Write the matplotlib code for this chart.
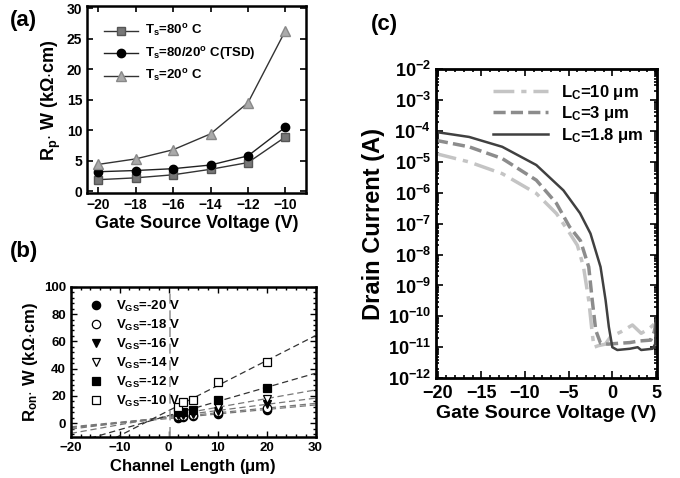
import numpy as np
import matplotlib
matplotlib.use('Agg')
import matplotlib.pyplot as plt
from matplotlib.ticker import MultipleLocator, LogLocator, NullFormatter

plt.rcParams['font.family'] = ['Liberation Sans', 'DejaVu Sans']
plt.rcParams['font.weight'] = 'bold'
plt.rcParams['mathtext.fontset'] = 'custom'
plt.rcParams['mathtext.rm'] = 'Liberation Sans:bold'
plt.rcParams['mathtext.it'] = 'Liberation Sans:bold'
plt.rcParams['mathtext.bf'] = 'Liberation Sans:bold'
plt.rcParams['mathtext.default'] = 'rm'

# (a) parasitic resistance vs gate voltage
vgs_a = [-20, -18, -16, -14, -12, -10]
rp_80 = [1.9, 2.2, 2.7, 3.6, 4.7, 8.9]
rp_tsd = [3.2, 3.4, 3.7, 4.3, 5.8, 10.5]
rp_20 = [4.4, 5.3, 6.8, 9.4, 14.5, 26.3]

# (b) Ron*W vs channel length (TLM)
lc_b = [2, 3, 5, 10, 20]
ron = {
    '-20': [4.0, 4.5, 5.0, 7.0, 10.0],
    '-18': [5.0, 5.0, 6.0, 8.0, 11.0],
    '-16': [6.0, 6.0, 7.0, 9.0, 14.0],
    '-14': [7.0, 7.0, 8.0, 12.0, 18.0],
    '-12': [8.0, 8.5, 10.0, 17.0, 26.0],
    '-10': [12.0, 15.5, 17.0, 30.0, 45.0],
}
ron_markers = {'-20': ('o', 'k'), '-18': ('o', 'w'), '-16': ('v', 'k'),
               '-14': ('v', 'w'), '-12': ('s', 'k'), '-10': ('s', 'w')}

# (c) transfer curves, log10 of drain current
v_18 = [-20.2, -16.4, -12.6, -8.7, -5.6, -3.7, -2.5, -1.35, -0.77, -0.4, 0.0, 0.57, 2.0, 2.9, 3.3, 4.6, 4.9, 5.0]
i_18 = [-4.03, -4.19, -4.51, -5.1, -5.92, -6.66, -7.32, -8.4, -9.48, -10.34, -11.0, -11.09, -11.05, -11.0, -11.09, -11.05, -10.9, -10.1]
v_3 = [-20.2, -16.4, -12.6, -8.7, -6.4, -4.9, -3.65, -2.7, -2.3, -1.9, -1.35, -0.5, 0.4, 2.0, 3.0, 4.4, 4.8, 5.0]
i_3 = [-4.3, -4.51, -4.89, -5.59, -6.34, -7.1, -7.55, -8.4, -9.48, -10.45, -10.87, -10.9, -10.88, -10.85, -10.8, -10.77, -10.5, -10.2]
v_10 = [-20.2, -16.4, -12.6, -8.7, -6.4, -4.9, -4.0, -3.3, -2.7, -2.3, -2.1, -1.6, -0.8, -0.2, 1.0, 2.3, 3.3, 4.2, 5.0]
i_10 = [-4.73, -5.0, -5.38, -6.02, -6.67, -7.3, -7.7, -8.4, -9.48, -10.55, -11.0, -10.95, -10.9, -10.66, -10.5, -10.28, -10.55, -10.4, -10.2]

fig = plt.figure(figsize=(6.8, 4.78), dpi=100)

# ---------------- (a)
ax1 = fig.add_axes([0.128, 0.596, 0.322, 0.391])
ax1.plot(vgs_a, rp_80, '-s', color='#333333', lw=1.0, ms=6, mfc='#777777', mec='#555555', label=r'T$_s$=80$^o$ C')
ax1.plot(vgs_a, rp_tsd, '-o', color='#222222', lw=1.0, ms=6, mfc='black', mec='black', label=r'T$_s$=80/20$^o$ C(TSD)')
ax1.plot(vgs_a, rp_20, '-^', color='#333333', lw=1.0, ms=7, mfc='#aaaaaa', mec='#888888', label=r'T$_s$=20$^o$ C')
ax1.set_xlim(-20.6, -8.9)
ax1.set_ylim(-0.3, 30.3)
ax1.xaxis.set_major_locator(MultipleLocator(2))
ax1.yaxis.set_major_locator(MultipleLocator(5))
ax1.tick_params(direction='in', top=True, right=True, labelsize=10, width=1.2, length=4)
ax1.set_xlabel('Gate Source Voltage (V)', fontsize=13, fontweight='bold', labelpad=2)
ax1.set_ylabel(r'R$_p$$\cdot$ W (k$\Omega$$\cdot$cm)', fontsize=13, fontweight='bold', labelpad=3)
ax1.legend(loc='upper left', frameon=False, fontsize=9.5, handlelength=2.6, handletextpad=0.5,
           borderaxespad=0.9, labelspacing=0.45)
for s in ax1.spines.values():
    s.set_linewidth(1.8)
fig.text(0.015, 0.98, '(a)', fontsize=16, fontweight='bold', va='top')

# ---------------- (b)
ax2 = fig.add_axes([0.104, 0.086, 0.360, 0.314])
xfit = np.array([-20, 30])
for key in ['-20', '-18', '-16', '-14', '-12', '-10']:
    mk, fc = ron_markers[key]
    k, b = np.polyfit(lc_b, ron[key], 1)
    lc = '#333333' if key in ('-10', '-12') else '#777777'
    ax2.plot(xfit, k * xfit + b, '--', color=lc, lw=0.9, dashes=(5, 3))
    ax2.plot(lc_b, ron[key], mk, ls='none', ms=6, mfc=fc, mec='black', mew=0.9,
             label=r'V$_{GS}$=' + key + ' V')
ax2.axvline(0.2, color='#999999', ls='--', lw=1.2, dashes=(6, 4))
ax2.set_xlim(-20, 30)
ax2.set_ylim(-10, 100)
ax2.xaxis.set_major_locator(MultipleLocator(10))
ax2.xaxis.set_minor_locator(MultipleLocator(2))
ax2.yaxis.set_major_locator(MultipleLocator(20))
ax2.yaxis.set_minor_locator(MultipleLocator(4))
ax2.tick_params(which='both', direction='in', top=True, right=True, labelsize=9.5, width=1.0)
ax2.tick_params(which='major', length=4)
ax2.tick_params(which='minor', length=2)
ax2.set_xlabel(r'Channel Length ($\mu$m)', fontsize=12, fontweight='bold', labelpad=2)
ax2.set_ylabel(r'R$_{on}$$\cdot$ W (k$\Omega$$\cdot$cm)', fontsize=12, fontweight='bold', labelpad=3)
ax2.legend(loc='upper left', frameon=False, fontsize=9.5, handletextpad=0.5, borderaxespad=0.5,
           labelspacing=0.3)
for s in ax2.spines.values():
    s.set_linewidth(1.8)
fig.text(0.015, 0.495, '(b)', fontsize=16, fontweight='bold', va='top')

# ---------------- (c)
ax3 = fig.add_axes([0.641, 0.209, 0.325, 0.646])
ax3.semilogy(v_10, 10 ** np.array(i_10), color='#c4c4c4', lw=2.5, ls=(0, (6, 2, 1.5, 2)), label=r'L$_C$=10 $\mu$m')
ax3.semilogy(v_3, 10 ** np.array(i_3), color='#8c8c8c', lw=2.5, ls=(0, (3.5, 1.5)), label=r'L$_C$=3 $\mu$m')
ax3.semilogy(v_18, 10 ** np.array(i_18), color='#404040', lw=1.8, ls='-', label=r'L$_C$=1.8 $\mu$m')
ax3.set_xlim(-20.2, 5.1)
ax3.set_ylim(1e-12, 1e-2)
ax3.xaxis.set_major_locator(MultipleLocator(5))
ax3.xaxis.set_minor_locator(MultipleLocator(1))
ax3.yaxis.set_major_locator(LogLocator(base=10, numticks=20))
ax3.yaxis.set_minor_locator(LogLocator(base=10, subs=np.arange(2, 10), numticks=20))
ax3.yaxis.set_minor_formatter(NullFormatter())
ax3.tick_params(which='both', direction='in', top=True, right=True, labelsize=13, width=1.2)
ax3.tick_params(which='major', length=5)
ax3.tick_params(which='minor', length=2.5)
ax3.tick_params(axis='x', pad=5)
ax3.set_xlabel('Gate Source Voltage (V)', fontsize=14, fontweight='bold', labelpad=2)
ax3.set_ylabel('Drain Current (A)', fontsize=17, fontweight='bold', labelpad=2)
ax3.legend(loc='upper right', frameon=False, fontsize=12, handlelength=3.3, borderaxespad=0.4, labelspacing=0.15)
for s in ax3.spines.values():
    s.set_linewidth(2.0)
fig.text(0.545, 0.97, '(c)', fontsize=16, fontweight='bold', va='top')

fig.savefig('out.png', dpi=100)
